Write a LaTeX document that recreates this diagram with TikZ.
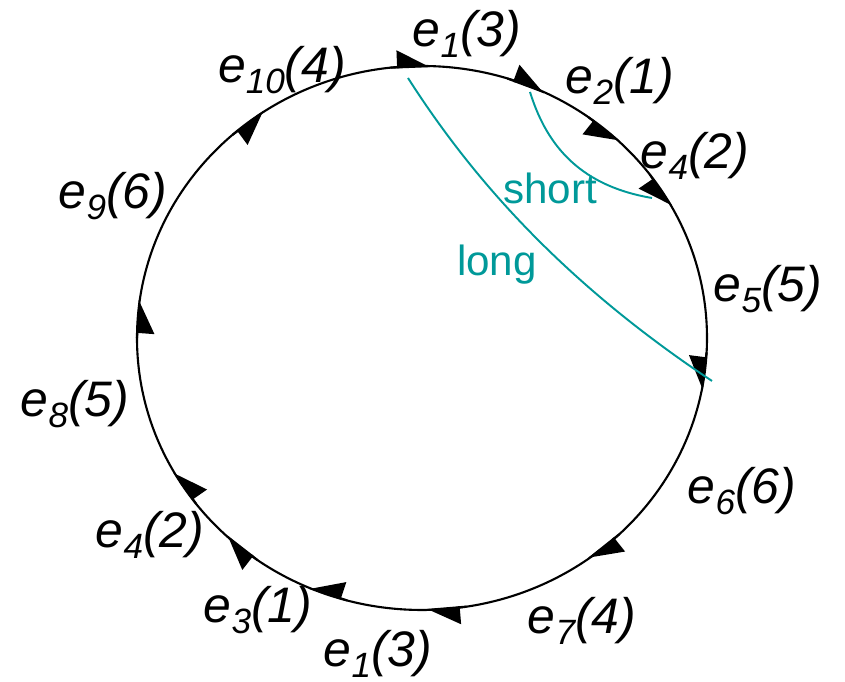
\documentclass[tikz,border=0pt]{standalone}
\usepackage{fontspec}
\setmainfont{Liberation Sans}
\usepackage{tikz}
\usetikzlibrary{arrows.meta}
\definecolor{pathteal}{RGB}{0,153,153}
\newcommand{\elab}[2]{\textit{e\raisebox{-0.4ex}{\fontsize{10}{10}\selectfont #1}(#2)}}

\begin{document}
\begin{tikzpicture}[every node/.style={inner sep=0pt},
    lbl/.style={font=\fontsize{14.2}{16}\selectfont},
    tlbl/.style={font=\fontsize{12}{14}\selectfont, text=pathteal},
    outa/.style={line width=0.6pt, -{Triangle[harpoon,length=8.8pt,width=9.6pt]}},
    ina/.style={line width=0.6pt, -{Triangle[harpoon,swap,length=8.8pt,width=9.6pt]}},
    route/.style={pathteal, line width=0.55pt}]
        \useasboundingbox (0,0) rectangle (8.45,6.82);
        \draw[line width=0.6pt] (4.22,3.44) ellipse [x radius=2.85, y radius=2.72];
        \begin{scope}[shift={(4.22,3.44)}]
            \draw[outa] (96.4:2.85 and 2.72) -- (88.4:2.85 and 2.72);
            \draw[outa] (72.6:2.85 and 2.72) -- (64.6:2.85 and 2.72);
            \draw[ina] (54.3:2.85 and 2.72) -- (46.3:2.85 and 2.72);
            \draw[ina] (37:2.85 and 2.72) -- (29:2.85 and 2.72);
            \draw[ina] (-3:2.85 and 2.72) -- (-11:2.85 and 2.72);
            \draw[outa] (-46.2:2.85 and 2.72) -- (-54.2:2.85 and 2.72);
            \draw[outa] (-81:2.85 and 2.72) -- (-89:2.85 and 2.72);
            \draw[ina] (-105.2:2.85 and 2.72) -- (-113.2:2.85 and 2.72);
            \draw[outa] (-125.2:2.85 and 2.72) -- (-133.2:2.85 and 2.72);
            \draw[ina] (-142.4:2.85 and 2.72) -- (-150.4:2.85 and 2.72);
            \draw[ina] (180:2.85 and 2.72) -- (172:2.85 and 2.72);
            \draw[ina] (131.7:2.85 and 2.72) -- (123.7:2.85 and 2.72);
        \end{scope}
        \node[lbl] (e1top) at (4.67,6.48) {\elab{1}{3}};
        \node[lbl] (e2) at (6.20,6.01) {\elab{2}{1}};
        \node[lbl] (e4right) at (6.95,5.26) {\elab{4}{2}};
        \node[lbl] (e5) at (7.68,3.93) {\elab{5}{5}};
        \node[lbl] (e6) at (7.42,1.91) {\elab{6}{6}};
        \node[lbl] (e7) at (5.82,0.61) {\elab{7}{4}};
        \node[lbl] (e1bot) at (3.78,0.28) {\elab{1}{3}};
        \node[lbl] (e3) at (2.58,0.72) {\elab{3}{1}};
        \node[lbl] (e4left) at (1.50,1.47) {\elab{4}{2}};
        \node[lbl] (e8) at (0.75,2.78) {\elab{8}{5}};
        \node[lbl] (e9) at (1.13,4.86) {\elab{9}{6}};
        \node[lbl] (e10) at (2.82,6.12) {\elab{10}{4}};
        \coordinate (longstart) at (4.08,6.04);
        \coordinate (longend) at (7.12,3.01);
        \coordinate (shortstart) at (5.30,5.90);
        \coordinate (shortend) at (6.52,4.84);
        \draw[route] (longstart) .. controls (4.70,5.07) and (5.60,4.02) .. (longend);
        \draw[route] (shortstart) .. controls (5.45,5.42) and (5.75,4.97) .. (shortend);
        \node[tlbl] (short) at (5.50,4.94) {short};
        \node[tlbl] (long) at (4.97,4.17) {long};
    \end{tikzpicture}
\end{document}
